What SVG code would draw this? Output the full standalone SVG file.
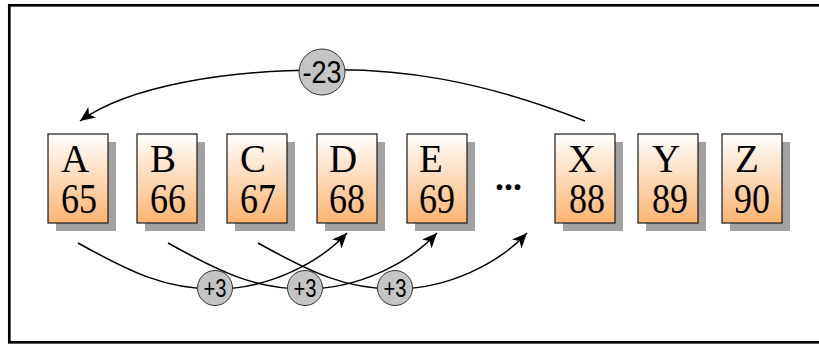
<svg xmlns="http://www.w3.org/2000/svg" width="819" height="344" viewBox="0 0 819 344">
<style>
.box{fill:url(#g);stroke:#1a1a1a;stroke-width:1.2}
.sh{fill:#a2a2a2}
.lt{font-family:"Liberation Serif","Times New Roman",serif;font-size:39px;fill:#000}
.num{font-family:"Liberation Serif","Times New Roman",serif;font-size:43px;fill:#000}
.bub{fill:#c4c4c4;stroke:#333;stroke-width:1}
.bt{font-family:"Liberation Sans",Arial,sans-serif;fill:#000;text-anchor:middle}
.b3{font-size:25px}
.b23{font-size:31px}
.con{fill:none;stroke:#000;stroke-width:1.5}
</style>
<defs>
<linearGradient id="g" x1="0" y1="0" x2="0" y2="1">
<stop offset="0" stop-color="#ffffff"/>
<stop offset="1" stop-color="#fdb470"/>
</linearGradient>
<marker id="ah" viewBox="-15 -7 16 14" refX="0" refY="0" markerWidth="16" markerHeight="14" markerUnits="userSpaceOnUse" orient="auto">
<path d="M0,0 L-15,-6.5 L-11,0 L-15,6.5 Z" fill="#000"/>
</marker>
</defs>
<rect x="9.3" y="5.3" width="830" height="337" fill="#fff" stroke="#000" stroke-width="2.7"/>

<g id="connectors">
<path class="con" d="M585,121 C480,80 400,68 322,70 C230,70 130,85 80,121" marker-end="url(#ah)"/>
<path class="con" d="M78,243 C130,272 165,289 215,289 C270,289 320,262 347,233" marker-end="url(#ah)"/>
<path class="con" d="M168,243 C220,272 255,289 305,289 C360,289 410,262 437,233" marker-end="url(#ah)"/>
<path class="con" d="M258,243 C310,272 345,289 395,289 C450,289 500,262 527,233" marker-end="url(#ah)"/>
</g>

<g id="n-minus23"><circle class="bub" cx="322" cy="72" r="23"/><text class="bt b23" x="322" y="83" textLength="39" lengthAdjust="spacingAndGlyphs">-23</text></g>
<g id="n-plus3a"><circle class="bub" cx="215" cy="288" r="17.5"/><text class="bt b3" x="215" y="297" textLength="23" lengthAdjust="spacingAndGlyphs">+3</text></g>
<g id="n-plus3b"><circle class="bub" cx="305" cy="288" r="17.5"/><text class="bt b3" x="305" y="297" textLength="23" lengthAdjust="spacingAndGlyphs">+3</text></g>
<g id="n-plus3c"><circle class="bub" cx="395" cy="288" r="17.5"/><text class="bt b3" x="395" y="297" textLength="23" lengthAdjust="spacingAndGlyphs">+3</text></g>

<g id="n-A"><rect class="sh" x="56" y="142" width="60" height="89"/><rect class="box" x="48" y="134" width="60" height="89"/><text class="lt" x="61" y="172">A</text><text class="num" x="61" y="213" textLength="36" lengthAdjust="spacingAndGlyphs">65</text></g>
<g id="n-B"><rect class="sh" x="145" y="142" width="60" height="89"/><rect class="box" x="137" y="134" width="60" height="89"/><text class="lt" x="150" y="172">B</text><text class="num" x="150" y="213" textLength="36" lengthAdjust="spacingAndGlyphs">66</text></g>
<g id="n-C"><rect class="sh" x="235" y="142" width="60" height="89"/><rect class="box" x="227" y="134" width="60" height="89"/><text class="lt" x="240" y="172">C</text><text class="num" x="240" y="213" textLength="36" lengthAdjust="spacingAndGlyphs">67</text></g>
<g id="n-D"><rect class="sh" x="325" y="142" width="60" height="89"/><rect class="box" x="317" y="134" width="60" height="89"/><text class="lt" x="329" y="172">D</text><text class="num" x="329" y="213" textLength="36" lengthAdjust="spacingAndGlyphs">68</text></g>
<g id="n-E"><rect class="sh" x="415" y="142" width="60" height="89"/><rect class="box" x="407" y="134" width="60" height="89"/><text class="lt" x="419" y="172">E</text><text class="num" x="419" y="213" textLength="36" lengthAdjust="spacingAndGlyphs">69</text></g>
<g id="n-dots"><text x="495" y="190" font-family="Liberation Serif,serif" font-weight="bold" font-size="36" fill="#000">...</text></g>
<g id="n-X"><rect class="sh" x="563" y="142" width="60" height="89"/><rect class="box" x="555" y="134" width="60" height="89"/><text class="lt" x="568" y="172">X</text><text class="num" x="569" y="213" textLength="36" lengthAdjust="spacingAndGlyphs">88</text></g>
<g id="n-Y"><rect class="sh" x="646" y="142" width="60" height="89"/><rect class="box" x="638" y="134" width="60" height="89"/><text class="lt" x="652" y="172">Y</text><text class="num" x="652" y="213" textLength="36" lengthAdjust="spacingAndGlyphs">89</text></g>
<g id="n-Z"><rect class="sh" x="730" y="142" width="60" height="89"/><rect class="box" x="722" y="134" width="60" height="89"/><text class="lt" x="735" y="172">Z</text><text class="num" x="734" y="213" textLength="36" lengthAdjust="spacingAndGlyphs">90</text></g>
</svg>
